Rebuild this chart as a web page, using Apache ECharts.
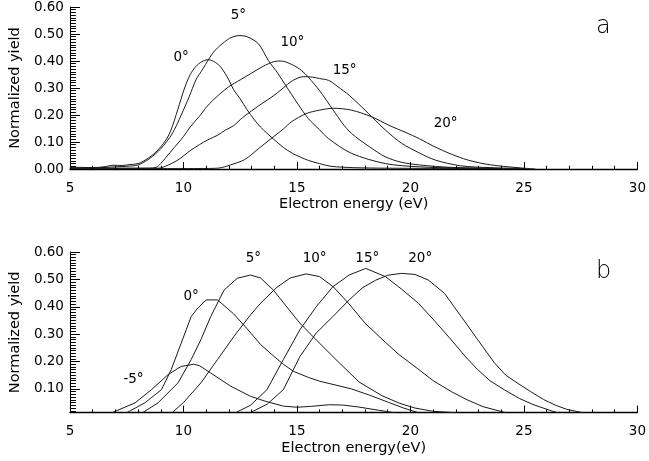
<!DOCTYPE html>
<html>
<head>
<meta charset="utf-8">
<script src="https://cdn.jsdelivr.net/npm/echarts@6.0.0/dist/echarts.min.js"></script>
<style>
  html, body { margin: 0; padding: 0; background: #fff; }
  #chart { width: 649px; height: 461px; }
</style>
</head>
<body>
<div id="chart"></div>
<script>
// panel a: measured yield, [energy eV, normalized yield]
const a0 = [[5,0.006],[5.5,0.006],[6,0.005],[6.5,0.008],[6.9,0.014],[7.3,0.013],[7.6,0.016],[8.0,0.02],[8.45,0.04],[8.75,0.06],[9.0,0.082],[9.25,0.11],[9.45,0.144],[9.75,0.22],[10.05,0.3],[10.3,0.35],[10.55,0.38],[10.8,0.397],[11.1,0.405],[11.4,0.395],[11.65,0.377],[12.0,0.33],[12.2,0.295],[12.5,0.26],[12.8,0.22],[13.1,0.185],[13.4,0.155],[13.95,0.112],[14.4,0.08],[14.8,0.058],[15.5,0.032],[16.0,0.02],[16.5,0.01],[17.5,0.005],[19,0.003],[22,0.002],[25,0.001]];
const a5 = [[5,0.004],[6,0.004],[7,0.008],[7.5,0.01],[8.0,0.015],[8.5,0.038],[9.0,0.075],[9.5,0.13],[9.9,0.2],[10.25,0.267],[10.55,0.33],[10.85,0.37],[11.1,0.405],[11.4,0.44],[11.8,0.47],[12.1,0.487],[12.45,0.494],[12.8,0.49],[13.3,0.464],[13.74,0.402],[14.17,0.353],[14.5,0.31],[15.05,0.24],[15.5,0.187],[16.0,0.145],[16.4,0.112],[17.4,0.058],[18.9,0.02],[20.4,0.008],[22,0.004],[24,0.002]];
const a10 = [[5,0.002],[8.5,0.003],[8.8,0.006],[9.0,0.02],[9.2,0.04],[9.6,0.08],[10.0,0.12],[10.3,0.156],[10.7,0.195],[11.05,0.233],[11.5,0.27],[12.0,0.305],[12.5,0.33],[13.0,0.355],[13.5,0.38],[14.0,0.398],[14.3,0.4],[14.8,0.386],[15.2,0.365],[15.5,0.34],[16.0,0.29],[16.6,0.218],[17.0,0.17],[17.4,0.132],[18.2,0.082],[18.9,0.045],[19.6,0.025],[20.4,0.015],[21.8,0.006],[24,0.002]];
const a15 = [[5,0.003],[8.9,0.003],[9.2,0.01],[9.75,0.033],[10.3,0.068],[10.7,0.09],[11.05,0.107],[11.5,0.125],[11.85,0.144],[12.2,0.16],[12.6,0.19],[13.0,0.215],[13.5,0.245],[13.9,0.267],[14.4,0.3],[14.8,0.327],[15.3,0.342],[15.7,0.34],[16.0,0.335],[16.4,0.328],[16.8,0.305],[17.3,0.273],[18.0,0.218],[18.3,0.193],[18.9,0.144],[19.6,0.096],[20.4,0.059],[21.1,0.033],[22.2,0.012],[23.5,0.005],[25,0.002]];
const a20 = [[5,0.001],[11.0,0.002],[11.6,0.004],[12.07,0.015],[12.7,0.035],[13.3,0.075],[13.96,0.119],[14.4,0.148],[14.76,0.175],[15.4,0.205],[16.0,0.218],[16.6,0.225],[17.4,0.218],[18.3,0.193],[19.05,0.162],[19.8,0.135],[20.4,0.112],[21.0,0.085],[21.8,0.055],[22.5,0.034],[23.2,0.02],[23.85,0.012],[24.85,0.004],[25.5,0.0]];

// panel b: calculated yield
const bm5 = [[6.85,0.013],[7.87,0.049],[8.59,0.097],[9.32,0.152],[9.9,0.182],[10.45,0.19],[10.7,0.185],[11.2,0.158],[12.08,0.11],[12.95,0.073],[13.6,0.055],[14.4,0.037],[15.0,0.033],[15.6,0.036],[16.4,0.042],[17.0,0.041],[17.7,0.034],[18.6,0.022],[19.3,0.013]];
const b0 = [[7.5,0.013],[8.3,0.049],[9.03,0.097],[9.46,0.17],[9.9,0.267],[10.34,0.364],[10.63,0.395],[11.0,0.425],[11.5,0.425],[12.2,0.375],[12.8,0.32],[13.4,0.262],[13.9,0.225],[14.4,0.19],[14.85,0.164],[15.5,0.142],[16.0,0.128],[17.4,0.1],[18.2,0.077],[19.0,0.052],[19.7,0.03],[20.35,0.013]];
const b5 = [[8.2,0.013],[8.88,0.049],[9.76,0.122],[10.34,0.207],[10.77,0.28],[11.2,0.364],[11.79,0.461],[12.37,0.504],[12.95,0.516],[13.4,0.505],[13.96,0.461],[14.5,0.405],[15.13,0.34],[15.85,0.279],[16.72,0.207],[17.74,0.125],[18.75,0.075],[19.5,0.048],[20.2,0.03],[21.0,0.018],[22.0,0.013]];
const b10 = [[9.5,0.013],[10.0,0.05],[10.77,0.122],[11.5,0.207],[12.22,0.291],[12.95,0.37],[13.4,0.413],[14.1,0.47],[14.7,0.505],[15.4,0.52],[16.0,0.51],[16.6,0.473],[17.3,0.41],[18.0,0.34],[18.9,0.27],[19.5,0.225],[20.3,0.175],[21.0,0.13],[21.8,0.09],[22.5,0.06],[23.2,0.035],[24.2,0.013]];
const b15 = [[12.3,0.013],[12.95,0.04],[13.68,0.097],[14.4,0.207],[15.13,0.316],[15.85,0.4],[16.58,0.473],[17.3,0.516],[18.03,0.54],[18.9,0.51],[19.6,0.465],[20.35,0.413],[21.1,0.345],[21.8,0.279],[22.4,0.22],[22.97,0.17],[23.5,0.13],[24.13,0.097],[24.8,0.065],[25.4,0.043],[26.2,0.02],[26.5,0.013]];
const b20 = [[12.95,0.013],[13.7,0.045],[14.4,0.097],[15.13,0.218],[15.85,0.304],[16.58,0.364],[17.3,0.425],[17.9,0.47],[18.47,0.497],[19.0,0.515],[19.6,0.522],[20.2,0.518],[20.8,0.497],[21.5,0.449],[22.24,0.364],[22.97,0.279],[23.7,0.195],[24.2,0.15],[24.7,0.122],[25.3,0.09],[25.87,0.061],[26.4,0.04],[26.9,0.025],[27.6,0.013]];

// angle labels and where they sit (data units)
const namesA = ['0°', '5°', '10°', '15°', '20°'];
const labelPosA = [[9.9,0.413],[12.42,0.568],[14.8,0.469],[17.1,0.365],[21.55,0.17]];
const namesB = ['-5°', '0°', '5°', '10°', '15°', '20°'];
const labelPosB = [[7.8,0.134],[10.34,0.437],[13.08,0.577],[15.78,0.577],[18.1,0.576],[20.43,0.576]];

// tick marks
const xMajor = [5, 10, 15, 20, 25, 30];
const yMajor = [0, 0.1, 0.2, 0.3, 0.4, 0.5, 0.6];
const yMinA = 0;
const yMinB = 0.013;

const FONT = 'DejaVu Sans';

function makeSeries(data, idx, name, pos, smooth) {
  return {
    type: 'line',
    name: name,
    xAxisIndex: idx,
    yAxisIndex: idx,
    data: data,
    symbol: 'none',
    smooth: smooth,
    silent: true,
    lineStyle: { color: '#1a1a1a', width: 1 },
    markPoint: {
      symbol: 'circle',
      symbolSize: 1,
      itemStyle: { color: 'rgba(0,0,0,0)' },
      label: {
        show: true,
        position: 'inside',
        formatter: name,
        color: '#000',
        fontSize: 13.5,
        fontFamily: FONT
      },
      data: [{ coord: pos }]
    }
  }
}

// inward tick segments, drawn as a lines series on each panel
function tickSegments(yMin) {
  const segs = []
  const xLong = 0.026, xShort = 0.012   // tick heights on the energy axis
  const yLong = 0.44, yShort = 0.26     // tick widths on the yield axis
  xMajor.forEach((v, i) => {
    segs.push({ coords: [[v, yMin], [v, yMin + xLong]] })
    if (i < xMajor.length - 1) {
      for (let k = 1; k < 5; k++) segs.push({ coords: [[v + k, yMin], [v + k, yMin + xShort]] })
    }
  })
  yMajor.forEach((v, i) => {
    if (v >= yMin) segs.push({ coords: [[5, v], [5 + yLong, v]] })
    if (i < yMajor.length - 1) {
      for (let k = 1; k < 10; k++) {
        const m = +(v + k * 0.01).toFixed(3)
        if (m > yMin) segs.push({ coords: [[5, m], [5 + yShort, m]] })
      }
    }
  })
  return segs
}

function tickSeries(idx, yMin) {
  return {
    type: 'lines',
    coordinateSystem: 'cartesian2d',
    xAxisIndex: idx,
    yAxisIndex: idx,
    silent: true,
    z: 10,
    lineStyle: { color: '#000', width: 1, opacity: 1 },
    data: tickSegments(yMin)
  }
}

function xAxisOf(idx, title) {
  return {
    type: 'value',
    gridIndex: idx,
    min: 5,
    max: 30,
    interval: 5,
    axisLine: { show: true, onZero: false, lineStyle: { color: '#000', width: 1.3 } },
    axisTick: { show: false },
    splitLine: { show: false },
    axisLabel: { color: '#000', fontSize: 13.5, fontFamily: FONT, margin: 12 },
    name: title,
    nameLocation: 'middle',
    nameGap: 28,
    nameTextStyle: { color: '#000', fontSize: 14.5, fontFamily: FONT }
  }
}

function yAxisOf(idx, min) {
  const ax = {
    type: 'value',
    gridIndex: idx,
    min: min,
    max: 0.6,
    axisLine: { show: true, lineStyle: { color: '#000', width: 1 } },
    axisTick: { show: false },
    splitLine: { show: false },
    axisLabel: {
      color: '#000', fontSize: 13.5, fontFamily: FONT, margin: 6,
      formatter: (v) => v.toFixed(2)
    },
    name: 'Normalized yield',
    nameLocation: 'middle',
    nameRotate: 90,
    nameGap: 40,
    nameTextStyle: { color: '#000', fontSize: 14.5, fontFamily: FONT }
  }
  if (min === 0) {
    ax.interval = 0.1
  } else {
    ax.splitNumber = 6
    ax.axisLabel.showMinLabel = false
  }
  return ax
}

const seriesA = [a0, a5, a10, a15, a20].map((d, i) => makeSeries(d, 0, namesA[i], labelPosA[i], 0.3));
const seriesB = [bm5, b0, b5, b10, b15, b20].map((d, i) => makeSeries(d, 1, namesB[i], labelPosB[i], false));

const chart = echarts.init(document.getElementById('chart'));
chart.setOption({
  backgroundColor: '#fff',
  animation: false,
  grid: [
    { left: 68, top: 6.5, width: 573, height: 162.5 },
    { left: 68, top: 252, width: 573, height: 160.7 }
  ],
  xAxis: [xAxisOf(0, 'Electron energy (eV)'), xAxisOf(1, 'Electron energy(eV)')],
  yAxis: [yAxisOf(0, yMinA), yAxisOf(1, yMinB)],
  series: seriesA.concat(seriesB, [tickSeries(0, yMinA), tickSeries(1, yMinB)]),
  graphic: [
    { type: 'text', left: 596, top: 15, style: { text: 'a', fontSize: 24, fontFamily: FONT, fontWeight: 'lighter', fill: '#000' } },
    { type: 'text', left: 596, top: 260, style: { text: 'b', fontSize: 24, fontFamily: FONT, fontWeight: 'lighter', fill: '#000' } }
  ]
});
</script>
</body>
</html>
